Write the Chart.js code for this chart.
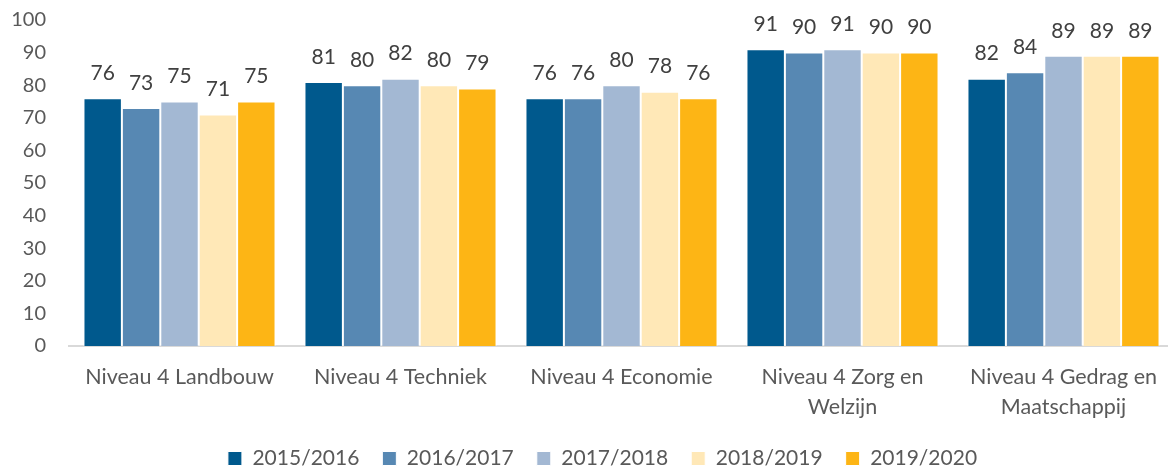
<!DOCTYPE html>
<html>
<head>
<meta charset="utf-8">
<script src="https://cdn.jsdelivr.net/npm/chart.js@4.4.1/dist/chart.umd.min.js"></script>
<style>
  html, body { margin: 0; padding: 0; background: #ffffff; overflow: hidden; }
  #wrap { position: relative; width: 1174px; height: 471px; }
</style>
</head>
<body>
<div id="wrap"><canvas id="chart"></canvas></div>
<script>
// Categories (x axis) and one array per school year
const categories = [
    'Niveau 4 Landbouw',
    'Niveau 4 Techniek',
    'Niveau 4 Economie',
    ['Niveau 4 Zorg en', 'Welzijn'],
    ['Niveau 4 Gedrag en', 'Maatschappij']
];
const years = ['2015/2016', '2016/2017', '2017/2018', '2018/2019', '2019/2020'];
const values2015 = [76, 81, 76, 91, 82];
const values2016 = [73, 80, 76, 90, 84];
const values2017 = [75, 82, 80, 91, 89];
const values2018 = [71, 80, 78, 90, 89];
const values2019 = [75, 79, 76, 90, 89];
const yTicks = [0, 10, 20, 30, 40, 50, 60, 70, 80, 90, 100];

const seriesValues = [values2015, values2016, values2017, values2018, values2019];
const seriesColors = ['#00598D', '#5788B3', '#A3B8D3', '#FFE8B7', '#FDB515'];

const FONT = 'Lato';

// Draws the value above every bar
const barValueLabels = {
    id: 'barValueLabels',
    afterDatasetsDraw(chart) {
        const ctx = chart.ctx;
        ctx.save();
        ctx.font = '21px ' + FONT;
        ctx.fillStyle = '#404040';
        ctx.textAlign = 'center';
        ctx.textBaseline = 'middle';
        chart.data.datasets.forEach((ds, i) => {
            const meta = chart.getDatasetMeta(i);
            meta.data.forEach((bar, j) => {
                ctx.fillText(String(ds.data[j]), bar.x, bar.y - 25);
            });
        });
        ctx.restore();
    }
};

// The legend in the original sits a bit right of the canvas centre
const legendNudge = {
    id: 'legendNudge',
    afterLayout(chart) {
        if (chart.legend) chart.legend.left += 31;
    }
};

new Chart(document.getElementById('chart'), {
    type: 'bar',
    data: {
        labels: categories,
        datasets: years.map((year, i) => ({
            label: year,
            data: seriesValues[i],
            backgroundColor: seriesColors[i],
            borderColor: '#ffffff',
            borderWidth: 1,
            borderSkipped: 'bottom',
            categoryPercentage: 0.869,
            barPercentage: 1.0
        }))
    },
    options: {
        responsive: true,
        maintainAspectRatio: false,
        animation: false,
        layout: {
            padding: { top: 0, left: 0, right: 0, bottom: 0 }
        },
        plugins: {
            legend: {
                position: 'bottom',
                maxHeight: 46,
                labels: {
                    boxWidth: 14,
                    boxHeight: 14,
                    padding: 23,
                    color: '#595959',
                    font: { family: FONT, size: 21 }
                }
            },
            tooltip: { enabled: false }
        },
        scales: {
            x: {
                grid: { display: false, drawTicks: false },
                border: { display: true, color: '#D9D9D9', width: 2 },
                ticks: {
                    color: '#595959',
                    padding: 16,
                    maxRotation: 0,
                    autoSkip: false,
                    font: { family: FONT, size: 21.5, lineHeight: 1.4 }
                },
                afterFit(scale) { scale.height = 79; }
            },
            y: {
                min: yTicks[0],
                max: yTicks[yTicks.length - 1],
                grid: { display: false, drawTicks: true, tickLength: 15 },
                border: { display: false },
                ticks: {
                    stepSize: yTicks[1] - yTicks[0],
                    color: '#595959',
                    padding: 8,
                    font: { family: FONT, size: 20 }
                },
                afterFit(scale) { scale.width = 69; }
            }
        }
    },
    plugins: [barValueLabels, legendNudge]
});
</script>
</body>
</html>
